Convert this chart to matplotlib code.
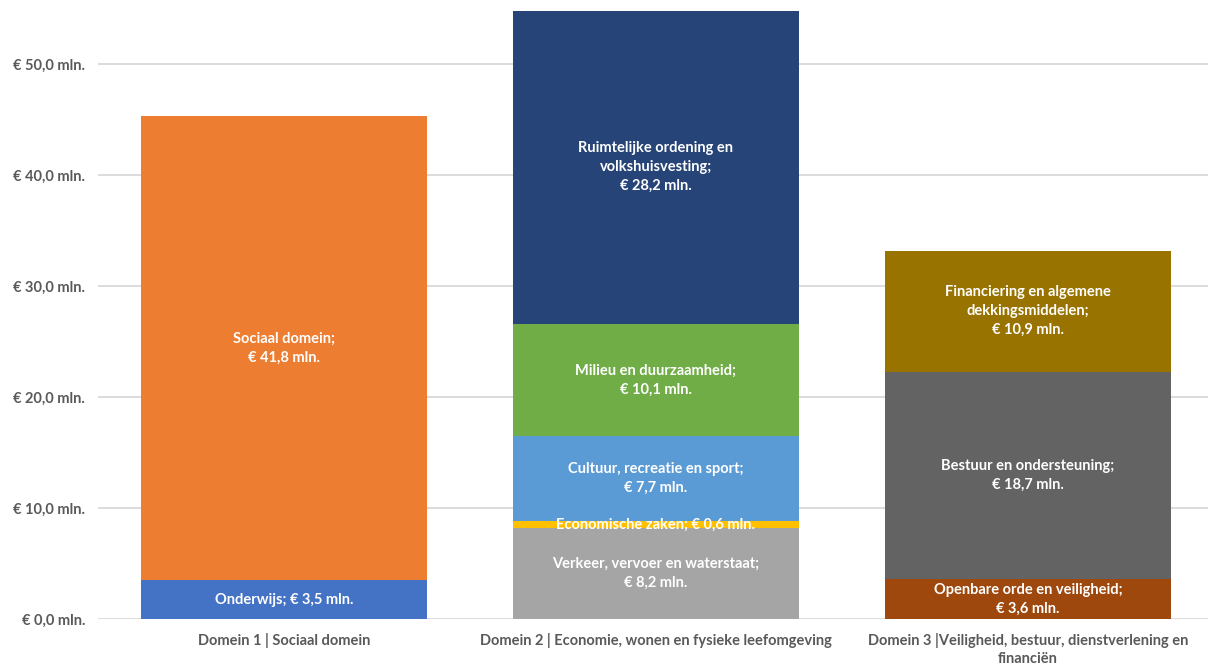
import numpy as np
import matplotlib.pyplot as plt

plt.rcParams['font.family'] = ['Lato', 'DejaVu Sans']

domains = ['Domein 1 | Sociaal domein',
           'Domein 2 | Economie, wonen en fysieke leefomgeving',
           'Domein 3 |Veiligheid, bestuur, dienstverlening en\nfinanciën']

# segments per domain, bottom to top
d1_labels = ['Onderwijs; € 3,5 mln.', 'Sociaal domein;\n€ 41,8 mln.']
d1_values = [3.5, 41.8]
d1_colors = ['#4472C4', '#ED7D31']

d2_labels = ['Verkeer, vervoer en waterstaat;\n€ 8,2 mln.',
             'Economische zaken; € 0,6 mln.',
             'Cultuur, recreatie en sport;\n€ 7,7 mln.',
             'Milieu en duurzaamheid;\n€ 10,1 mln.',
             'Ruimtelijke ordening en\nvolkshuisvesting;\n€ 28,2 mln.']
d2_values = [8.2, 0.6, 7.7, 10.1, 28.2]
d2_colors = ['#A5A5A5', '#FFC000', '#5B9BD5', '#70AD47', '#264478']

d3_labels = ['Openbare orde en veiligheid;\n€ 3,6 mln.',
             'Bestuur en ondersteuning;\n€ 18,7 mln.',
             'Financiering en algemene\ndekkingsmiddelen;\n€ 10,9 mln.']
d3_values = [3.6, 18.7, 10.9]
d3_colors = ['#9E480E', '#636363', '#997300']

yticks = [0, 10, 20, 30, 40, 50]

fig = plt.figure(figsize=(12.08, 6.70), dpi=100)
ax = fig.add_axes([0.081, 0.076, 0.919, 0.9195])

groups = [(d1_labels, d1_values, d1_colors),
          (d2_labels, d2_values, d2_colors),
          (d3_labels, d3_values, d3_colors)]

for i, (labels, values, colors) in enumerate(groups):
    bottom = 0.0
    for lab, val, col in zip(labels, values, colors):
        ax.bar(i, val, bottom=bottom, width=0.77, color=col, zorder=2)
        ax.text(i, bottom + val / 2, lab, ha='center', va='center',
                color='white', fontsize=10.5, fontweight='bold',
                linespacing=1.45, zorder=3)
        bottom += val

ax.set_xlim(-0.5, 2.484)
ax.set_ylim(0, 55.5)
ax.set_yticks(yticks)
ax.set_yticklabels([('€ %.1f mln.' % v).replace('.', ',', 1) for v in yticks],
                   fontsize=10.5, color='#595959', fontweight='bold')
ax.yaxis.set_tick_params(length=0, pad=9)
ax.set_xticks(range(3))
ax.set_xticklabels(domains, fontsize=10.5, color='#595959',
                   fontweight='bold', linespacing=1.4)
ax.xaxis.set_tick_params(length=0, pad=10)
ax.grid(axis='y', color='#D9D9D9', linewidth=1.3, zorder=0)
for s in ax.spines.values():
    s.set_visible(False)

fig.savefig('out.png', dpi=100)
